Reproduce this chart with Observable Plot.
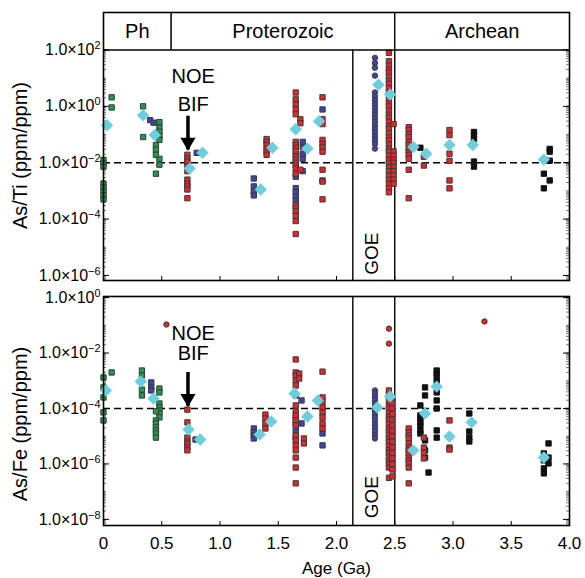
<!DOCTYPE html>
<html><head><meta charset="utf-8">
<script src="https://cdn.jsdelivr.net/npm/d3@7"></script>
<script src="https://cdn.jsdelivr.net/npm/@observablehq/plot@0.6"></script>
<style>
body{margin:0;background:#fff}
#c{position:relative;width:585px;height:578px;overflow:hidden}
#c svg{position:absolute;left:0;overflow:visible}
</style>
</head><body><div id="c"></div>
<script>
const FONT = "'Liberation Sans', Arial, Helvetica, sans-serif";

// ---------- DATA (values as log10 exponents) ----------
// Top panel: As/Ti (ppm/ppm)
const topGreen = [
  {age: 0.00, v: [-1.9, -2.03, -2.14, -2.74, -2.88, -3.02, -3.16, -3.3]},
  {age: 0.07, v: [0.32, -0.04]},
  {age: 0.34, v: [0.0, -1.09]},
  {age: 0.48, v: [-0.56, -0.75, -0.9, -1.05, -1.19, -1.86, -2.07]},
  {age: 0.45, v: [-1.37, -1.54, -1.72, -2.39]}
];
const topBlue = [
  {age: 0.40, v: [-0.49]},
  {age: 0.43, v: [-0.58]},
  {age: 0.80, v: [-1.65]},
  {age: 1.29, v: [-2.56, -2.84, -3.02, -3.16]},
  {age: 1.65, v: [-1.7, -2.5, -2.9, -3.05, -3.2, -3.35]},
  {age: 1.71, v: [-1.26, -1.44, -1.68, -1.86, -2.3]},
  {age: 1.88, v: [-0.11, -2.63]}
];
const topRed = [
  {age: 0.72, v: [-1.72, -1.86, -1.96, -2.14, -2.3, -2.6, -2.74, -2.84, -2.95, -3.26]},
  {age: 1.40, v: [-1.16, -1.26, -1.37, -1.51, -1.61, -1.72]},
  {age: 1.65, v: [0.49, 0.25, 0.07, -0.11, -0.28, -1.26, -1.37, -1.47, -1.58, -1.79, -1.89, -2.0, -2.1, -2.21, -2.39, -3.5, -3.6, -3.72, -3.89, -4.07, -4.53]},
  {age: 1.69, v: [-0.46, -0.6, -2.25]},
  {age: 1.88, v: [0.32, -0.46, -0.63, -1.19, -1.33, -1.44, -1.61, -2.25, -2.67, -3.3]},
  {age: 2.45, v: [1.9, 1.6, 1.45, 1.3, 1.2, 1.05, 0.9, 0.8, 0.65, 0.5, 0.4, 0.25, 0.1, 0.0, -0.15, -0.3, -0.4, -0.55, -0.7, -0.8, -0.95, -1.1, -1.2, -1.35, -1.5, -1.6, -1.75, -1.9, -2.0, -2.15, -2.3, -2.45, -2.6, -2.75, -2.9, -3.05]},
  {age: 2.49, v: [-0.63, -1.6, -1.75, -1.9, -2.0, -2.15, -2.3, -2.45, -2.6, -2.75]},
  {age: 2.62, v: [-0.74, -0.84, -0.98, -1.09, -1.26, -1.37, -1.51, -1.61, -1.72, -1.86, -2.25, -3.26]},
  {age: 2.75, v: [-1.79, -2.1]},
  {age: 2.97, v: [-0.84, -1.02, -1.68, -1.93, -2.63, -2.91]}
];
const topBlack = [
  {age: 2.72, v: [-1.47]},
  {age: 3.18, v: [-0.91, -1.02, -1.16, -1.96, -2.14]},
  {age: 3.83, v: [-1.51, -1.61, -1.93, -2.63]},
  {age: 3.78, v: [-2.39, -2.91]}
];
const topBlueCircles = [
  {age: 2.33, v: [1.72, 1.54, 1.37, 1.09, 0.49, 0.35, 0.22, 0.08, -0.05, -0.18, -0.3, -0.43, -0.56, -0.7, -0.82, -0.95, -1.08, -1.2, -1.33, -1.5]}
];
const topRedCircles = [];
const topMeans = [
  [0.03, -0.67], [0.34, -0.32], [0.44, -1.02], [0.74, -2.21], [0.85, -1.65],
  [1.35, -2.95], [1.45, -1.47], [1.65, -0.81], [1.75, -1.5], [1.85, -0.53],
  [2.36, 0.77], [2.46, 0.42], [2.66, -1.44], [2.77, -1.68], [2.97, -1.37],
  [3.17, -1.37], [3.78, -1.89]
];

// Bottom panel: As/Fe (ppm/ppm)
const botGreen = [
  {age: 0.00, v: [-2.88, -3.24, -3.6, -4.14, -4.43]},
  {age: 0.07, v: [-2.7]},
  {age: 0.33, v: [-2.63, -2.81, -3.32, -3.53]},
  {age: 0.48, v: [-3.28, -3.42, -3.82, -3.96, -4.07, -4.18, -4.32]},
  {age: 0.45, v: [-4.1, -4.43, -4.54, -4.68, -4.79, -4.9, -5.05]}
];
const botBlue = [
  {age: 0.41, v: [-3.06, -3.24, -3.35]},
  {age: 0.79, v: [-5.12]},
  {age: 1.29, v: [-4.72, -4.86, -4.97, -5.08]},
  {age: 1.65, v: [-4.32, -4.54, -4.79, -5.05]},
  {age: 1.70, v: [-3.71, -4.54]},
  {age: 1.88, v: [-4.9, -5.33]}
];
const botRed = [
  {age: 0.72, v: [-4.04, -4.5, -5.05, -5.19, -5.26, -5.41, -5.51]},
  {age: 1.39, v: [-4.22, -4.36, -4.54, -4.72]},
  {age: 1.65, v: [-2.23, -2.7, -2.81, -2.99, -3.17, -3.53, -3.89, -4.1, -4.25, -4.43, -4.61, -4.97, -5.15, -5.33, -5.51, -5.77, -6.13, -6.7]},
  {age: 1.68, v: [-2.74, -2.92]},
  {age: 1.72, v: [-5.08, -5.26]},
  {age: 1.88, v: [-2.67, -3.6, -3.78, -3.96, -4.14, -4.32, -4.54, -4.72]},
  {age: 2.45, v: [-3.35, -3.5, -3.6, -3.75, -3.9, -4.0, -4.15, -4.3, -4.4, -4.55, -4.7, -4.8, -4.95, -5.1, -5.2, -5.35, -5.5, -5.6, -5.75, -5.9, -6.0, -6.13, -6.5]},
  {age: 2.48, v: [-3.6, -3.8, -4.0, -4.2, -4.4, -4.6, -4.8, -5.0, -5.2, -5.4, -5.6, -5.8, -6.0, -6.2, -6.45]},
  {age: 2.62, v: [-4.72, -4.86, -4.97, -5.08, -5.26, -5.41, -5.51, -5.62, -5.77, -5.87, -5.98, -6.13, -6.7]},
  {age: 2.75, v: [-5.05, -5.41, -5.59, -5.8]},
  {age: 2.97, v: [-4.43, -5.41, -5.48]}
];
const botBlack = [
  {age: 2.72, v: [-3.89, -4.25, -4.36, -4.5, -4.61, -4.79, -4.9]},
  {age: 2.76, v: [-3.24, -3.53, -5.15, -5.51, -5.77]},
  {age: 2.79, v: [-6.31]},
  {age: 2.86, v: [-2.63, -2.74, -2.88, -3.06, -3.42, -3.71, -4.0, -4.79, -5.05]},
  {age: 3.14, v: [-4.18, -4.83, -5.05, -5.19]},
  {age: 3.78, v: [-5.62, -5.87, -6.16, -6.34]},
  {age: 3.82, v: [-5.26, -5.77, -5.98]}
];
const botBlueCircles = [
  {age: 2.33, v: [-3.35, -3.45, -3.58, -3.7, -3.82, -3.95, -4.07, -4.2, -4.32, -4.45, -4.58, -4.7, -4.83, -4.95, -5.08]}
];
const botRedCircles = [
  {age: 0.54, v: [-0.97]},
  {age: 2.45, v: [-1.12, -1.66]},
  {age: 3.27, v: [-0.86]}
];
const botMeans = [
  [0.02, -3.35], [0.32, -3.03], [0.43, -3.64], [0.73, -4.76], [0.83, -5.12],
  [1.34, -4.94], [1.44, -4.47], [1.64, -3.46], [1.75, -4.29], [1.84, -3.71],
  [2.35, -3.96], [2.46, -3.57], [2.66, -5.51], [2.76, -4.18], [2.86, -3.21],
  [2.97, -5.01], [3.16, -4.5], [3.78, -5.77]
];

// Eras / events
const eras = [
  {name: "Ph", start: 0, end: 0.58},
  {name: "Proterozoic", start: 0.58, end: 2.5},
  {name: "Archean", start: 2.5, end: 4.0}
];
const goe = {start: 2.14, end: 2.5, label: "GOE"};
const xTicks = [0, 0.5, 1.0, 1.5, 2.0, 2.5, 3.0, 3.5, 4.0];
const xTickLabels = ["0", "0.5", "1.0", "1.5", "2.0", "2.5", "3.0", "3.5", "4.0"];

// ---------- helpers ----------
const COLORS = {green: "#1f9a4e", blue: "#3b47a6", red: "#e2262c", black: "#111111", cyan: "#6dcfdc"};
function flat(cols, color) {
  return cols.flatMap(c => c.v.map(e => ({age: c.age, value: Math.pow(10, e), color})));
}
function supFmt(d) {
  const e = Math.round(Math.log10(d));
  return "1.0×10^" + (e < 0 ? "−" + (-e) : String(e));
}
const plotW = 569 - 103;

function panel(cfg) {
  const squares = [...flat(cfg.black, COLORS.black), ...flat(cfg.green, COLORS.green), ...flat(cfg.blue, COLORS.blue), ...flat(cfg.red, COLORS.red)];
  const circles = [...flat(cfg.blueC, COLORS.blue), ...flat(cfg.redC, COLORS.red)];
  const means = cfg.means.map(([a, e]) => ({age: a, value: Math.pow(10, e)}));
  const lo = cfg.decLo, hi = cfg.decHi;
  const minor = [];
  for (let d = lo - 1; d <= hi; d++) for (let k = 1; k <= 9; k++) {
    const v = k * Math.pow(10, d);
    if (v >= cfg.plotLo && v <= Math.pow(10, hi)) minor.push(v);
  }
  const major = d3.range(lo, hi + 1, 2).map(d => Math.pow(10, d));
  const ph = cfg.height - cfg.marginTop - cfg.marginBottom;
  const marks = [
    Plot.ruleY(minor, {insetRight: plotW - 3, stroke: "#555", strokeWidth: 0.8}),
    Plot.ruleY(minor, {insetLeft: plotW - 3, stroke: "#555", strokeWidth: 0.8}),
    Plot.ruleY(major, {insetRight: plotW - 6, stroke: "#000", strokeWidth: 1}),
    Plot.ruleY(major, {insetLeft: plotW - 6, stroke: "#000", strokeWidth: 1}),
    Plot.ruleX(xTicks, {insetTop: ph - 4, stroke: "#000", strokeWidth: 1}),
    Plot.axisY({ticks: major, tickSize: 0, tickPadding: 3, tickFormat: supFmt, fontSize: 16, anchor: "left", label: null}),
    Plot.ruleY([cfg.refLine], {stroke: "#000", strokeWidth: 1.6, strokeDasharray: "7,4"}),
    Plot.ruleX([goe.start], {y1: cfg.plotLo, y2: cfg.plotHi, stroke: "#000", strokeWidth: 1.4}),
    Plot.ruleX([goe.end], {stroke: "#000", strokeWidth: 1.4}),
    Plot.text([goe.label], {x: (goe.start + goe.end) / 2 - 0.02, y: cfg.goeY, rotate: -90, fontSize: 19, textAnchor: "middle", lineAnchor: "middle", fill: "#000"}),
    Plot.dot(squares, {x: "age", y: "value", symbol: "square", r: 3.0, fill: "color", stroke: d => d.color === COLORS.black ? "#111" : "#3a3a3a", strokeWidth: 1}),
    Plot.dot(circles, {x: "age", y: "value", symbol: "circle", r: 2.7, fill: "color", stroke: "#3a3a3a", strokeWidth: 1}),
    Plot.dot(means, {x: "age", y: "value", symbol: "diamond2", r: 5.6, fill: COLORS.cyan, stroke: "none"}),
    Plot.text(["NOE"], {x: 0.77, y: cfg.noeY, fontSize: 20, textAnchor: "middle", lineAnchor: "middle", fill: "#000"}),
    Plot.text(["BIF"], {x: 0.77, y: cfg.bifY, fontSize: 20, textAnchor: "middle", lineAnchor: "middle", fill: "#000"}),
    Plot.ruleX([0.725], {y1: cfg.arrowTop, y2: cfg.arrowTip, stroke: "#000", strokeWidth: 3.5}),
    Plot.dot([0], {x: () => 0.725, y: () => cfg.arrowTip, symbol: "triangle", r: 5.6, rotate: 180, dy: -8, fill: "#000", stroke: "none"}),
    Plot.text([cfg.ylabel], {frameAnchor: "left", dx: -83, dy: cfg.ylabelDy, rotate: -90, fontSize: 20, textAnchor: "middle", lineAnchor: "middle", fill: "#000"})
  ];
  if (cfg.header) {
    marks.push(
      Plot.ruleY([cfg.plotHi], {stroke: "#000", strokeWidth: 1.5}),
      Plot.ruleX([eras[0].end], {y1: cfg.plotHi, y2: cfg.yTop, stroke: "#000", strokeWidth: 1.5}),
      Plot.text(eras, {x: d => (d.start + d.end) / 2, y: Math.pow(10, (Math.log10(cfg.plotHi) + Math.log10(cfg.yTop)) / 2), text: "name", fontSize: 20, textAnchor: "middle", lineAnchor: "middle", fill: "#000"})
    );
  }
  if (cfg.xlabels) {
    marks.push(
      Plot.axisX({ticks: xTicks, tickFormat: (d, i) => xTickLabels[i], tickSize: 0, tickPadding: 11, fontSize: 17, label: null}),
      Plot.text(["Age (Ga)"], {frameAnchor: "bottom", dy: 43, fontSize: 17, textAnchor: "middle", lineAnchor: "middle", fill: "#000"})
    );
  }
  marks.push(Plot.frame({stroke: "#000", strokeWidth: 1.6}));
  const svg = Plot.plot({
    width: 585, height: cfg.height,
    marginLeft: 103, marginRight: 16, marginTop: cfg.marginTop, marginBottom: cfg.marginBottom,
    style: {fontFamily: FONT, background: "transparent", color: "#000"},
    x: {domain: [0, 4.0], axis: null},
    y: {type: "log", domain: [cfg.plotLo, cfg.yTop], axis: null},
    color: {type: "identity"},
    marks
  });
  d3.select(svg).selectAll('g[aria-label="y-axis tick label"] text').each(function () {
    const t = this.textContent;
    if (!t.includes("^")) return;
    const [base, exp] = t.split("^");
    this.textContent = base;
    d3.select(this).append("tspan").attr("dy", "-0.55em").attr("font-size", "0.68em").text(exp);
  });
  return svg;
}

const topSvg = panel({
  height: 290, marginTop: 12, marginBottom: 10,
  plotLo: Math.pow(10, -6.18), plotHi: 1e2, yTop: Math.pow(10, 3.33),
  decLo: -6, decHi: 2, refLine: 1e-2, header: true, xlabels: false,
  green: topGreen, blue: topBlue, red: topRed, black: topBlack, blueC: topBlueCircles, redC: topRedCircles, means: topMeans,
  goeY: Math.pow(10, -5.23), noeY: Math.pow(10, 1.05), bifY: Math.pow(10, 0.07),
  arrowTop: Math.pow(10, -0.35), arrowTip: Math.pow(10, -1.55),
  ylabel: "As/Ti (ppm/ppm)", ylabelDy: 9
});
const botSvg = panel({
  height: 288, marginTop: 6, marginBottom: 53,
  plotLo: Math.pow(10, -8.22), plotHi: Math.pow(10, 0.04), yTop: Math.pow(10, 0.04),
  decLo: -8, decHi: 0, refLine: 1e-4, header: false, xlabels: true,
  green: botGreen, blue: botBlue, red: botRed, black: botBlack, blueC: botBlueCircles, redC: botRedCircles, means: botMeans,
  goeY: Math.pow(10, -7.2), noeY: Math.pow(10, -1.3), bifY: Math.pow(10, -2.02),
  arrowTop: Math.pow(10, -2.7), arrowTip: Math.pow(10, -3.92),
  ylabel: "As/Fe (ppm/ppm)", ylabelDy: 13
});
topSvg.style.top = "0px";
botSvg.style.top = "290px";
document.getElementById("c").append(topSvg, botSvg);
</script>
</body></html>
